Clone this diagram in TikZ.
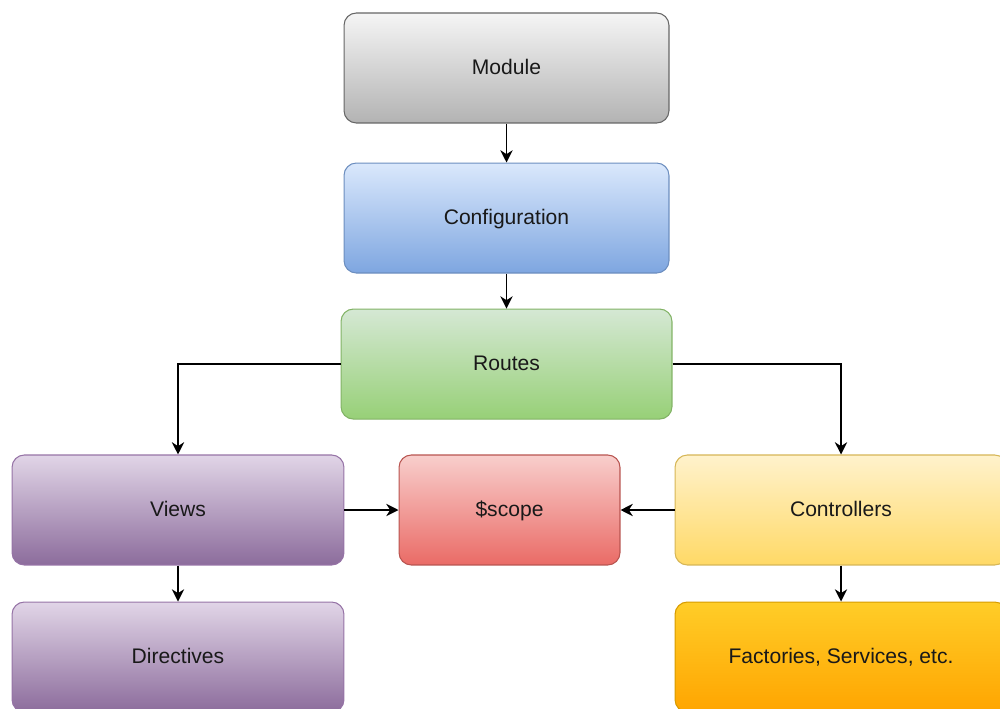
\documentclass[tikz,border=0pt]{standalone}
\usepackage{fontspec}
\setmainfont{Liberation Sans}
\usetikzlibrary{positioning, arrows.meta, shadings}
\definecolor{greytop}{HTML}{F5F5F5}
\definecolor{greybot}{HTML}{B3B3B3}
\definecolor{greyline}{HTML}{666666}
\definecolor{bluetop}{HTML}{DAE8FC}
\definecolor{bluebot}{HTML}{7EA6E0}
\definecolor{blueline}{HTML}{6C8EBF}
\definecolor{greentop}{HTML}{D5E8D4}
\definecolor{greenbot}{HTML}{97D077}
\definecolor{greenline}{HTML}{82B366}
\definecolor{purpletop}{HTML}{E1D5E7}
\definecolor{purplebot}{HTML}{8C6C9C}
\definecolor{purpleline}{HTML}{9673A6}
\definecolor{redtop}{HTML}{F8CECC}
\definecolor{redbot}{HTML}{EA6B66}
\definecolor{redline}{HTML}{B85450}
\definecolor{yellowtop}{HTML}{FFF2CC}
\definecolor{yellowbot}{HTML}{FFD966}
\definecolor{yellowline}{HTML}{D6B656}
\definecolor{orangetop}{HTML}{FFCD28}
\definecolor{orangebot}{HTML}{FFA500}
\definecolor{orangeline}{HTML}{D79B00}
\tikzset{
	box/.style={
		rectangle,
		draw,
		line width=0.6pt,
		rounded corners=7pt,
		minimum width=6.5cm,
		minimum height=2.2cm,
		text height=1.4ex,
		text depth=0pt,
		text=black!90,
		font=\fontsize{12}{14}\selectfont,
	},
	greybox/.style={box, draw=greyline, top color=greytop, bottom color=greybot},
	bluebox/.style={box, draw=blueline, top color=bluetop, bottom color=bluebot},
	greenbox/.style={box, draw=greenline, top color=greentop, bottom color=greenbot},
	purplebox/.style={box, draw=purpleline, top color=purpletop, bottom color=purplebot, minimum width=6.64cm},
	redbox/.style={box, draw=redline, top color=redtop, bottom color=redbot, minimum width=4.42cm},
	yellowbox/.style={box, draw=yellowline, top color=yellowtop, bottom color=yellowbot, minimum width=6.64cm},
	orangebox/.style={box, draw=orangeline, top color=orangetop, bottom color=orangebot, minimum width=6.64cm},
	flow/.style={-{Stealth[length=7pt, width=7pt]}, line width=0.8pt},
}
\begin{document}
\begin{tikzpicture}[x=0.02cm, y=-0.02cm]
	\useasboundingbox (0,0) rectangle (1000,709);
	\clip (0,0) rectangle (1000,709);

	\node [greybox] (module) at (506.5,68) {Module};
	\node [bluebox, below=0.78cm of module] (config) {Configuration};
	\node [greenbox, minimum width=6.62cm, below=0.7cm of config] (routes) {Routes};
	\node [purplebox] (views) at (178,510) {Views};
	\node [redbox] (scope) at (509.5,510) {\$scope};
	\node [yellowbox] (ctrl) at (841,510) {Controllers};
	\node [purplebox, below=0.72cm of views] (directives) {Directives};
	\node [orangebox, below=0.72cm of ctrl] (factories) {Factories, Services, etc.};

	\draw [flow] (module) -- (config);
	\draw [flow] (config) -- (routes);
	\draw [flow] (routes.west) -| (views.north);
	\draw [flow] (routes.east) -| (ctrl.north);
	\draw [flow] (views) -- (scope);
	\draw [flow] (ctrl) -- (scope);
	\draw [flow] (views) -- (directives);
	\draw [flow] (ctrl) -- (factories);
\end{tikzpicture}
\end{document}
